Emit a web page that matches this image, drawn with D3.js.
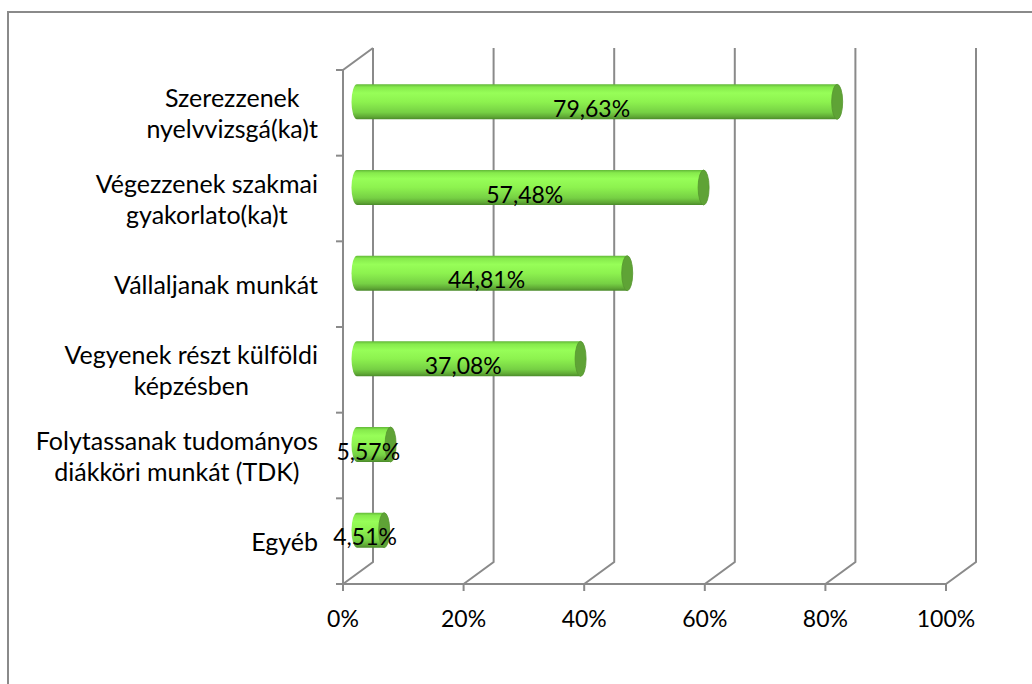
<!DOCTYPE html>
<html>
<head>
<meta charset="utf-8">
<script src="https://cdn.jsdelivr.net/npm/d3@7"></script>
<style>
  html, body { margin: 0; padding: 0; background: #fff; }
  svg { display: block; }
  text { font-family: Lato, "Open Sans", sans-serif; fill: #000; }
</style>
</head>
<body>
<svg id="chart" width="1032" height="684"></svg>
<script>
// Category labels (one entry per line) and their shares
const categories = [
  ["Szerezzenek", "nyelvvizsgá(ka)t"],
  ["Végezzenek szakmai", "gyakorlato(ka)t"],
  ["Vállaljanak munkát"],
  ["Vegyenek részt külföldi", "képzésben"],
  ["Folytassanak tudományos", "diákköri munkát (TDK)"],
  ["Egyéb"]
];
const values = [79.63, 57.48, 44.81, 37.08, 5.57, 4.51];
const valueLabels = ["79,63%", "57,48%", "44,81%", "37,08%", "5,57%", "4,51%"];
const tickValues = [0, 20, 40, 60, 80, 100];
const tickLabels = ["0%", "20%", "40%", "60%", "80%", "100%"];

const svg = d3.select("#chart");
const gray = "#8a8a8a";

// outer frame of the chart area
svg.append("rect")
  .attr("x", 8).attr("y", 12).attr("width", 1040).attr("height", 700)
  .attr("fill", "none").attr("stroke", gray).attr("stroke-width", 2);

// front plane scales
const x = d3.scaleLinear().domain([0, 100]).range([343, 946]);
const y = d3.scaleBand().domain(d3.range(categories.length)).range([70, 584]);
// 3D depth offset of the back wall
const dx = 30, dy = -22;

const grid = svg.append("g").attr("stroke", gray).attr("stroke-width", 2).attr("fill", "none");
const yTop = y.range()[0], yBot = y.range()[1];

// back wall gridlines with their floor diagonals
tickValues.forEach(t => {
  grid.append("path")
    .attr("d", `M${x(t) + dx},${yTop + dy} L${x(t) + dx},${yBot + dy} L${x(t)},${yBot}`);
});
// side wall: front vertical edge and top diagonal
grid.append("path").attr("d", `M${x(0) + dx},${yTop + dy} L${x(0)},${yTop} L${x(0)},${yBot}`);
// floor front edge
grid.append("path").attr("d", `M${x(0)},${yBot} L${x(100)},${yBot}`);

// category ticks
d3.range(categories.length + 1).forEach(i => {
  const yy = yTop + i * y.step();
  grid.append("path").attr("d", `M${x(0) - 7},${yy} L${x(0)},${yy}`);
});
// value ticks
tickValues.forEach(t => {
  grid.append("path").attr("d", `M${x(t)},${yBot} L${x(t)},${yBot + 7}`);
});

// value tick labels
svg.append("g").selectAll("text").data(tickValues).join("text")
  .attr("x", d => x(d)).attr("y", 627)
  .attr("text-anchor", "middle").attr("font-size", 23)
  .text((d, i) => tickLabels[i]);

// category labels: lines centred within a block right-aligned to the axis
const labelRight = 318, lineH = 31, fs = 25;
const catG = svg.append("g");
categories.forEach((lines, i) => {
  const cy = y(i) + y.bandwidth() / 2 + 2;
  const g = catG.append("g");
  const texts = lines.map((l, j) => g.append("text")
    .attr("font-size", fs)
    .attr("y", cy + (j - (lines.length - 1) / 2) * lineH + 8)
    .text(l));
  const w = d3.max(texts, t => t.node().getComputedTextLength());
  texts.forEach(t => t.attr("x", labelRight - w / 2).attr("text-anchor", "middle"));
});

// cylinder bars
const defs = svg.append("defs");
const grad = defs.append("linearGradient").attr("id", "cyl")
  .attr("x1", 0).attr("y1", 0).attr("x2", 0).attr("y2", 1);
[[0, "#62b838"], [0.08, "#86ea4c"], [0.25, "#97fe58"], [0.5, "#8df24f"],
 [0.8, "#76d044"], [0.93, "#5fa835"], [1, "#4a8a2a"]]
  .forEach(([o, c]) => grad.append("stop").attr("offset", o).attr("stop-color", c));

const barH = 35, rx = 5.5;
const bx = 14, by = -11;   // bars sit midway in depth
const bars = svg.append("g");
values.forEach((v, i) => {
  const cy = y(i) + y.bandwidth() / 2 + by;
  const x0 = x(0) + bx, x1 = x(v) + bx;
  const t = cy - barH / 2, b = cy + barH / 2, ry = barH / 2;
  bars.append("path")
    .attr("d", `M${x0},${t} L${x1},${t} L${x1},${b} L${x0},${b} A${rx},${ry} 0 0 1 ${x0},${t} Z`)
    .attr("fill", "url(#cyl)");
  bars.append("ellipse")
    .attr("cx", x1).attr("cy", cy).attr("rx", rx).attr("ry", ry)
    .attr("fill", "#5fa336").attr("stroke", "#56962f").attr("stroke-width", 0.8);
  svg.append("text")
    .attr("x", (x0 + x1) / 2 - 5.5).attr("y", cy + 15)
    .attr("text-anchor", "middle").attr("font-size", 23)
    .text(valueLabels[i]);
});
</script>
</body>
</html>
